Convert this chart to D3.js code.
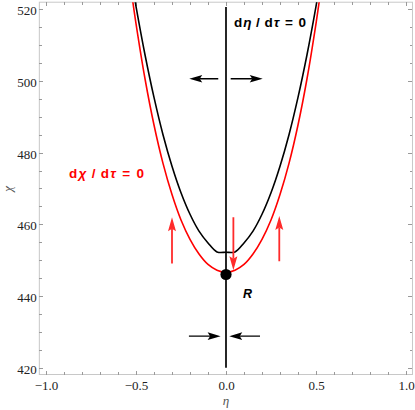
<!DOCTYPE html>
<meta charset="utf-8">
<style>
body { margin: 0; background: #fff; }
.tick line { stroke: #9a9a9a; shape-rendering: crispEdges; }
.tick text { font-family: "Liberation Serif", "DejaVu Serif", serif; font-size: 13px; }
.lbl { font-family: "Liberation Sans", Arial, sans-serif; font-weight: bold; }
.axlbl { font-family: "Liberation Serif", "DejaVu Serif", serif; font-style: italic; font-size: 13px; }
</style>
<body>
<script src="https://cdn.jsdelivr.net/npm/d3@7"></script>
<script>

// ticks
var xTicks = [-1, -0.5, 0, 0.5, 1],
    xTickLabels = ["\u22121.0", "\u22120.5", "0.0", "0.5", "1.0"],
    xMinor = [-0.9, -0.8, -0.7, -0.6, -0.4, -0.3, -0.2, -0.1, 0.1, 0.2, 0.3, 0.4, 0.6, 0.7, 0.8, 0.9];
var yTicks = [420, 440, 460, 480, 500, 520],
    yTickLabels = ["420", "440", "460", "480", "500", "520"],
    yMinor = [425, 430, 435, 445, 450, 455, 465, 470, 475, 485, 490, 495, 505, 510, 515];

// curves, chi at each eta
var etaGrid = [-0.52, -0.50, -0.45, -0.40, -0.35, -0.30, -0.25, -0.20, -0.15, -0.10, -0.05, 0,
               0.05, 0.10, 0.15, 0.20, 0.25, 0.30, 0.35, 0.40, 0.45, 0.50, 0.52];
var blackChi = [526.7, 520.8, 507.3, 495.4, 485.0, 476.2, 468.8, 462.8, 458.1, 454.8, 452.3, 452.2,
                452.3, 454.8, 458.1, 462.8, 468.8, 476.2, 485.0, 495.4, 507.3, 520.8, 526.7];
// d chi / d tau = 0
var redChi = [522.9, 516.0, 500.6, 487.7, 477.0, 468.3, 461.2, 455.8, 451.7, 448.8, 447.2, 446.6,
              447.2, 448.8, 451.7, 455.8, 461.2, 468.3, 477.0, 487.7, 500.6, 516.0, 522.9];

// d eta / d tau = 0
var etaNullcline = [[0, 420], [0, 520.6]];

// arrows [eta1, chi1, eta2, chi2]
var blackArrows = [
  [-0.043, 500.6, -0.204, 500.6],
  [0.026, 500.6, 0.204, 500.6],
  [-0.206, 428.8, -0.03, 428.8],
  [0.189, 428.8, 0.018, 428.8]
];
var redArrows = [
  [-0.3, 449.1, -0.3, 462.0],
  [0.296, 449.7, 0.296, 462.3],
  [0.041, 462.0, 0.041, 447.2]
];

var fixedPoint = [0, 446.0];

var plotEta = [-1.037, 1.036],
    plotChi = [418.1, 521.95];

var width = 415, height = 410;

var x = d3.scaleLinear().domain([-1, 1]).range([46, 406]);
var y = d3.scaleLinear().domain([420, 520]).range([367.7, 9.2]);

var svg = d3.select("body").append("svg")
    .attr("width", width)
    .attr("height", height);

var fLeft = x(plotEta[0]), fRight = x(plotEta[1]),
    fTop = y(plotChi[1]), fBottom = y(plotChi[0]);

svg.append("clipPath").attr("id", "clip")
  .append("rect")
    .attr("x", fLeft).attr("y", fTop)
    .attr("width", fRight - fLeft).attr("height", fBottom - fTop);

// frame
svg.append("rect")
    .attr("x", fLeft).attr("y", fTop)
    .attr("width", fRight - fLeft).attr("height", fBottom - fTop)
    .attr("fill", "none")
    .attr("stroke", "#c8c8c8")
    .attr("stroke-width", 1);

function axis(a, pos, vals, labels, size, pad) {
  var g = svg.append("g")
      .attr("transform", pos)
      .call(a.tickValues(vals)
        .tickFormat(function(d, i) { return labels ? labels[i] : ""; })
        .tickSize(-size).tickPadding(pad));
  g.select(".domain").remove();
  g.selectAll("text").attr("fill", "#222");
  return g;
}

axis(d3.axisBottom(x), "translate(0," + fBottom + ")", xTicks, xTickLabels, 4, 6);
axis(d3.axisBottom(x), "translate(0," + fBottom + ")", xMinor, null, 2.5, 6);
axis(d3.axisTop(x), "translate(0," + fTop + ")", xTicks, null, 4, 6);
axis(d3.axisTop(x), "translate(0," + fTop + ")", xMinor, null, 2.5, 6);
var yl = axis(d3.axisLeft(y), "translate(" + fLeft + ",0)", yTicks, yTickLabels, 4, 2.5);
yl.selectAll("text").attr("dy", "0.43em");
axis(d3.axisLeft(y), "translate(" + fLeft + ",0)", yMinor, null, 2.5, 2.5);
axis(d3.axisRight(y), "translate(" + fRight + ",0)", yTicks, null, 4, 2.5);
axis(d3.axisRight(y), "translate(" + fRight + ",0)", yMinor, null, 2.5, 2.5);

// axis labels
svg.append("text")
    .attr("class", "axlbl")
    .attr("x", x(0)).attr("y", 405)
    .attr("text-anchor", "middle")
    .attr("fill", "#555")
    .text("\u03b7");

svg.append("text")
    .attr("class", "axlbl")
    .attr("transform", "translate(12," + 189 + ") rotate(-90)")
    .attr("text-anchor", "middle")
    .attr("fill", "#555")
    .text("\u03c7");

var plot = svg.append("g").attr("clip-path", "url(#clip)");

var line = d3.line()
    .x(function(d) { return x(d[0]); })
    .y(function(d) { return y(d[1]); })
    .curve(d3.curveCatmullRom.alpha(0.5));

plot.append("path").datum(d3.zip(etaGrid, redChi))
    .attr("d", line).attr("fill", "none")
    .attr("stroke", "#ff0000").attr("stroke-width", 1.6);

plot.append("path").datum(d3.zip(etaGrid, blackChi))
    .attr("d", line).attr("fill", "none")
    .attr("stroke", "#000").attr("stroke-width", 1.6);

plot.append("path").datum(etaNullcline)
    .attr("d", d3.line().x(function(d) { return x(d[0]); }).y(function(d) { return y(d[1]); }))
    .attr("fill", "none")
    .attr("stroke", "#000").attr("stroke-width", 1.7);

// arrows
function drawArrow(a, color, sw, len, half, notch) {
  var x1 = x(a[0]), y1 = y(a[1]), x2 = x(a[2]), y2 = y(a[3]);
  var dx = x2 - x1, dy = y2 - y1, L = Math.sqrt(dx * dx + dy * dy);
  var ux = dx / L, uy = dy / L, px = -uy, py = ux;
  var bx = x2 - ux * len, by = y2 - uy * len;
  var nx = x2 - ux * (len - notch), ny = y2 - uy * (len - notch);
  plot.append("line")
      .attr("x1", x1).attr("y1", y1)
      .attr("x2", nx).attr("y2", ny)
      .attr("stroke", color).attr("stroke-width", sw);
  plot.append("path")
      .attr("d", "M" + x2 + "," + y2 +
                 "L" + (bx + px * half) + "," + (by + py * half) +
                 "L" + nx + "," + ny +
                 "L" + (bx - px * half) + "," + (by - py * half) + "Z")
      .attr("fill", color);
}

blackArrows.forEach(function(a) { drawArrow(a, "#000", 1.4, 13, 3.8, 2.5); });
redArrows.forEach(function(a) { drawArrow(a, "#ff2b2b", 1.8, 14, 4, 2.5); });

// fixed point R
plot.append("circle")
    .attr("cx", x(fixedPoint[0])).attr("cy", y(fixedPoint[1]))
    .attr("r", 5.6).attr("fill", "#000");

// labels
function eqLabel(tx, ty, greek, color, len) {
  var t = svg.append("text")
      .attr("class", "lbl")
      .attr("x", tx).attr("y", ty)
      .attr("fill", color)
      .style("font-size", "13.5px")
      .attr("textLength", len)
      .attr("lengthAdjust", "spacing");
  t.append("tspan").text("d");
  t.append("tspan").style("font-style", "italic").text(greek);
  t.append("tspan").text("\u2009/\u2009d");
  t.append("tspan").style("font-style", "italic").text("\u03c4");
  t.append("tspan").text(" = 0");
}

eqLabel(234, 27, "\u03b7", "#000", 72);
eqLabel(69, 177.5, "\u03c7", "#ff0000", 75);

svg.append("text")
    .attr("class", "lbl")
    .attr("x", 243).attr("y", 298)
    .style("font-size", "12.5px")
    .style("font-style", "italic")
    .text("R");

</script>
</body>
